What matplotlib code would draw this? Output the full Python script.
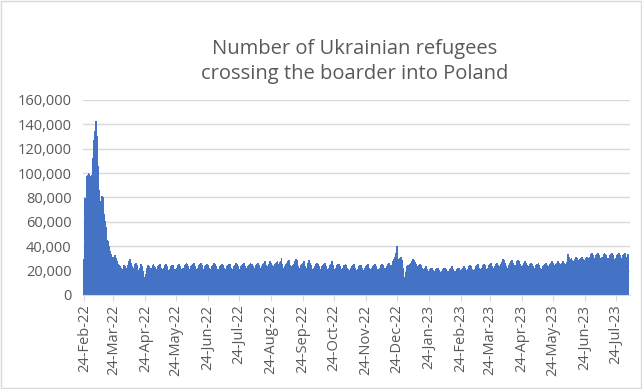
import numpy as np
import pandas as pd
import matplotlib
matplotlib.use("Agg")
import matplotlib.pyplot as plt
import matplotlib.dates as mdates
from matplotlib.ticker import FuncFormatter
from matplotlib.patches import Rectangle

# daily crossings into Poland, thousands of people, one list per month
feb_22 = [29, 79, 77, 98, 100]
mar_22 = [99, 97, 98, 112, 127, 134, 142, 130, 105, 86, 75, 77, 81, 80, 66, 60,
          55, 45, 44, 40, 36, 33, 31, 30, 31, 32, 30, 27, 25, 24, 23]
apr_22 = [22, 21, 24, 23, 22, 20, 24, 27, 29, 26, 23, 21, 22, 25, 26, 24, 20, 19,
          22, 25, 23, 19, 14, 11, 17, 22, 24, 23, 21, 22]
may_22 = [24, 25, 23, 20, 21, 23, 24, 25, 22, 20, 21, 22, 24, 25, 23, 20, 19, 21,
          23, 24, 24, 21, 20, 21, 22, 24, 25, 23, 20, 21, 22]
jun_22 = [24, 25, 26, 23, 21, 21, 23, 24, 25, 26, 23, 21, 20, 22, 24, 25, 26, 24,
          21, 21, 23, 24, 25, 24, 22, 20, 21, 23, 24, 26]
jul_22 = [25, 23, 21, 21, 23, 24, 25, 24, 22, 20, 21, 23, 24, 25, 25, 22, 20, 21,
          23, 24, 26, 25, 23, 21, 21, 23, 24, 25, 26, 23, 21]
aug_22 = [22, 24, 25, 26, 25, 23, 21, 22, 24, 25, 26, 24, 22, 21, 23, 25, 26, 27,
          24, 22, 23, 25, 27, 26, 24, 22, 23, 25, 26, 27, 24]
sep_22 = [25, 27, 30, 25, 22, 23, 25, 26, 27, 28, 24, 22, 23, 24, 25, 27, 29, 28,
          23, 21, 22, 24, 25, 26, 27, 23, 21, 22, 26, 28]
oct_22 = [26, 24, 21, 22, 23, 25, 26, 25, 23, 21, 21, 23, 24, 25, 26, 23, 21, 20,
          22, 24, 25, 27, 24, 21, 21, 22, 24, 25, 25, 23, 20]
nov_22 = [21, 22, 24, 25, 24, 22, 20, 20, 22, 23, 24, 25, 22, 20, 20, 21, 23, 24,
          24, 22, 19, 20, 22, 23, 24, 25, 22, 20, 21, 22]
dec_22 = [23, 24, 25, 23, 21, 21, 22, 24, 25, 24, 22, 21, 22, 23, 25, 26, 24, 22,
          24, 27, 29, 31, 34, 40, 29, 26, 30, 31, 28, 22, 14]
jan_23 = [9, 18, 23, 24, 25, 26, 27, 29, 28, 27, 25, 23, 22, 24, 25, 24, 22, 20,
          21, 22, 23, 21, 19, 19, 21, 22, 22, 20, 18, 19, 21]
feb_23 = [22, 22, 20, 18, 19, 21, 22, 22, 21, 19, 18, 19, 21, 22, 23, 21, 19, 18,
          19, 21, 22, 22, 20, 20, 21, 22, 23, 22]
mar_23 = [20, 19, 21, 23, 24, 23, 21, 20, 21, 23, 24, 25, 22, 20, 21, 22, 24, 25,
          24, 21, 20, 22, 24, 25, 26, 23, 21, 22, 23, 25, 26]
apr_23 = [24, 22, 23, 25, 27, 29, 28, 26, 23, 22, 24, 26, 27, 28, 26, 24, 22, 24,
          27, 28, 27, 25, 23, 22, 24, 26, 27, 26, 24, 22]
may_23 = [23, 25, 26, 25, 23, 21, 22, 24, 25, 26, 24, 22, 21, 23, 24, 25, 26, 24,
          22, 23, 25, 26, 27, 26, 24, 23, 25, 26, 27, 26, 24]
jun_23 = [25, 26, 27, 26, 24, 25, 27, 33, 31, 29, 30, 28, 27, 29, 31, 30, 28, 27,
          29, 30, 31, 29, 27, 28, 30, 31, 30, 28, 31, 33]
jul_23 = [34, 32, 29, 30, 32, 33, 34, 32, 29, 30, 31, 33, 34, 33, 30, 28, 30, 32,
          33, 34, 32, 29, 28, 30, 32, 33, 34, 32, 30, 29, 32]
aug_23 = [33, 34, 31, 30, 33]

months = [feb_22, mar_22, apr_22, may_22, jun_22, jul_22, aug_22, sep_22, oct_22,
          nov_22, dec_22, jan_23, feb_23, mar_23, apr_23, may_23, jun_23, jul_23,
          aug_23]
values = np.concatenate([np.array(m, dtype=float) for m in months]) * 1000
dates = pd.date_range("2022-02-24", periods=len(values), freq="D")
tick_dates = pd.date_range("2022-02-24", "2023-07-24", freq=pd.DateOffset(months=1))

text_col = "#595959"
grid_col = "#D9D9D9"

fig = plt.figure(figsize=(6.42, 3.89), dpi=100)
ax = fig.add_axes([0.129, 0.242, 0.852, 0.501])

# bars are about one pixel wide: no snapping and no antialiasing keeps them solid
bars = ax.bar(dates, values, width=0.9, color="#4472C4", edgecolor="none", zorder=3)
for b in bars:
    b.set_snap(False)
    b.set_antialiased(False)

ax.set_ylim(0, 160000)
ax.set_yticks(np.arange(0, 160001, 20000))
ax.yaxis.set_major_formatter(FuncFormatter(lambda v, p: f"{int(v):,}"))
ax.set_xlim(dates[0] - pd.Timedelta(days=1.5), dates[-1] + pd.Timedelta(days=1.5))
ax.set_xticks(tick_dates)
ax.xaxis.set_major_formatter(mdates.DateFormatter("%d-%b-%y"))

ax.grid(axis="y", color=grid_col, linewidth=1.0, zorder=0)
for s in ["top", "right", "left"]:
    ax.spines[s].set_visible(False)
ax.spines["bottom"].set_color(grid_col)
ax.spines["bottom"].set_zorder(4)

ax.tick_params(axis="y", length=0, labelsize=10.5, labelcolor=text_col, pad=8)
ax.tick_params(axis="x", length=4, color=grid_col, labelsize=10.5,
               labelcolor=text_col, rotation=90, pad=3)
for lab in ax.get_xticklabels() + ax.get_yticklabels():
    lab.set_family("Open Sans")

fig.text(0.553, 0.842, "Number of Ukrainian refugees\ncrossing the boarder into Poland",
         ha="center", va="center", fontsize=14.5, color=text_col,
         family="Open Sans", linespacing=1.35)

# thin chart-area frame
fig.patches.append(Rectangle((0.002, 0.002), 0.996, 0.996, transform=fig.transFigure,
                             fill=False, edgecolor=grid_col, linewidth=1.0))

fig.savefig("out.png", dpi=100)
